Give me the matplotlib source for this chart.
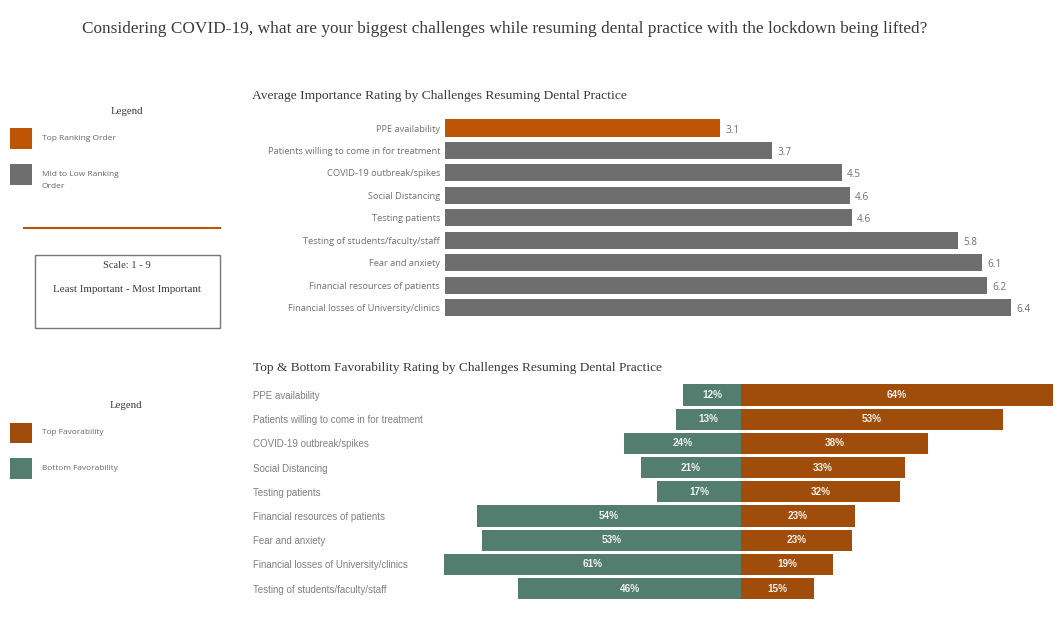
import matplotlib
matplotlib.use("Agg")
import matplotlib.pyplot as plt
from matplotlib.patches import Rectangle

# Importance chart data (bar lengths, labels as printed)
importance_labels = ["PPE availability", "Patients willing to come in for treatment",
                     "COVID-19 outbreak/spikes", "Social Distancing", "Testing patients",
                     "Testing of students/faculty/staff", "Fear and anxiety",
                     "Financial resources of patients", "Financial losses of University/clinics"]
importance_values = [3.11, 3.7, 4.49, 4.58, 4.6, 5.8, 6.07, 6.13, 6.4]
importance_text = ["3.1", "3.7", "4.5", "4.6", "4.6", "5.8", "6.1", "6.2", "6.4"]

# Favorability chart data
favor_labels = ["PPE availability", "Patients willing to come in for treatment",
                "COVID-19 outbreak/spikes", "Social Distancing", "Testing patients",
                "Financial resources of patients", "Fear and anxiety",
                "Financial losses of University/clinics", "Testing of students/faculty/staff"]
top_values = [64.0, 53.7, 38.4, 33.6, 32.6, 23.4, 22.8, 18.9, 14.9]
bottom_values = [11.8, 13.3, 24.0, 20.6, 17.2, 54.2, 53.1, 61.0, 45.7]
top_text = ["64%", "53%", "38%", "33%", "32%", "23%", "23%", "19%", "15%"]
bottom_text = ["12%", "13%", "24%", "21%", "17%", "54%", "53%", "61%", "46%"]

ORANGE = "#BE5504"
GREY = "#6E6E6E"
BROWN = "#A04D0B"
GREEN = "#527D6F"
SERIF = "Liberation Serif"

W, H = 1063, 638
fig = plt.figure(figsize=(W / 100, H / 100), dpi=100)


def px_axes(left, top, right, bottom):
    # axes placed by pixel box, y measured from the top of the image
    return fig.add_axes([left / W, 1 - bottom / H, (right - left) / W, (bottom - top) / H])


# page level layer for titles, legends and the scale box
page = fig.add_axes([0, 0, 1, 1])
page.set_xlim(0, W)
page.set_ylim(H, 0)
page.axis("off")

page.text(82, 29, "Considering COVID-19, what are your biggest challenges while resuming dental practice with the lockdown being lifted?",
          family=SERIF, fontsize=12.4, color="#3a3a3a", va="center")
page.text(252, 96, "Average Importance Rating by Challenges Resuming Dental Practice",
          family=SERIF, fontsize=9.7, color="#3a3a3a", va="center")
page.text(253, 368, "Top & Bottom Favorability Rating by Challenges Resuming Dental Practice",
          family=SERIF, fontsize=9.6, color="#3a3a3a", va="center")

page.text(127, 111, "Legend", family=SERIF, fontsize=7.8, color="#3a3a3a", ha="center", va="center")
page.add_patch(Rectangle((10, 128), 22, 21, color=ORANGE, lw=0))
page.add_patch(Rectangle((10, 164), 22, 21, color=GREY, lw=0))
page.text(42, 138, "Top Ranking Order", family="Open Sans", fontsize=6.0, color="#666666", va="center")
page.text(42, 174, "Mid to Low Ranking", family="Open Sans", fontsize=6.0, color="#666666", va="center")
page.text(42, 186, "Order", family="Open Sans", fontsize=6.0, color="#666666", va="center")

page.plot([24, 220], [228, 228], color=ORANGE, lw=1.5)
page.add_patch(Rectangle((35, 255), 185, 73, fill=False, ec="#777777", lw=1))
page.text(127, 266, "Scale: 1 - 9", family=SERIF, fontsize=7.6, color="#3a3a3a", ha="center", va="center")
page.text(127, 290, "Least Important - Most Important", family=SERIF, fontsize=7.9, color="#3a3a3a",
          ha="center", va="center")

page.text(126, 405, "Legend", family=SERIF, fontsize=7.8, color="#3a3a3a", ha="center", va="center")
page.add_patch(Rectangle((10, 423), 22, 20, color=BROWN, lw=0))
page.add_patch(Rectangle((10, 458), 22, 21, color=GREEN, lw=0))
page.text(42, 433, "Top Favorability", family="Open Sans", fontsize=5.95, color="#666666", va="center")
page.text(42, 469, "Bottom Favorability", family="Open Sans", fontsize=5.95, color="#666666", va="center")

# Average importance bars
ax1 = px_axes(445, 116.8, W, 318.7)
ax1.patch.set_alpha(0)
positions = list(range(len(importance_values)))
colors = [ORANGE] + [GREY] * (len(importance_values) - 1)
ax1.barh(positions, importance_values, height=0.76, color=colors)
for y, v, lab in zip(positions, importance_values, importance_text):
    ax1.text(v + 0.06, y + 0.09, lab, fontsize=7.2, family="Open Sans", color="#707070", va="center")
ax1.set_xlim(0, (W - 445) / 88.4)
ax1.set_ylim(8.5, -0.5)
ax1.set_xticks([])
ax1.set_yticks(positions)
ax1.set_yticklabels(importance_labels, family="Open Sans", fontsize=6.7, color="#707070")
ax1.tick_params(axis="y", length=0, pad=3.6)
for s in ax1.spines.values():
    s.set_visible(False)

# Top & bottom favorability, diverging around zero
ax2 = px_axes(430, 382.9, W, 600.7)
ax2.patch.set_alpha(0)
positions = list(range(len(top_values)))
ax2.barh(positions, top_values, height=0.88, color=BROWN)
ax2.barh(positions, [-v for v in bottom_values], height=0.88, color=GREEN)
for y, t, b, t_lab, b_lab in zip(positions, top_values, bottom_values, top_text, bottom_text):
    ax2.text(t / 2, y, t_lab, fontsize=7.2, family="Liberation Sans", weight="bold", color="#f5f0ea",
             ha="center", va="center")
    ax2.text(-b / 2, y, b_lab, fontsize=7.2, family="Liberation Sans", weight="bold", color="#f0f4f2",
             ha="center", va="center")
ax2.set_xlim((430 - 741) / 4.875, (W - 741) / 4.875)
ax2.set_ylim(8.5, -0.5)
ax2.set_xticks([])
ax2.set_yticks(positions)
ax2.set_yticklabels(favor_labels, family="Liberation Sans", fontsize=7.0, color="#808080", ha="left")
ax2.tick_params(axis="y", length=0, pad=(430 - 253) * 0.72)
for s in ax2.spines.values():
    s.set_visible(False)

fig.savefig("out.png", dpi=100)
